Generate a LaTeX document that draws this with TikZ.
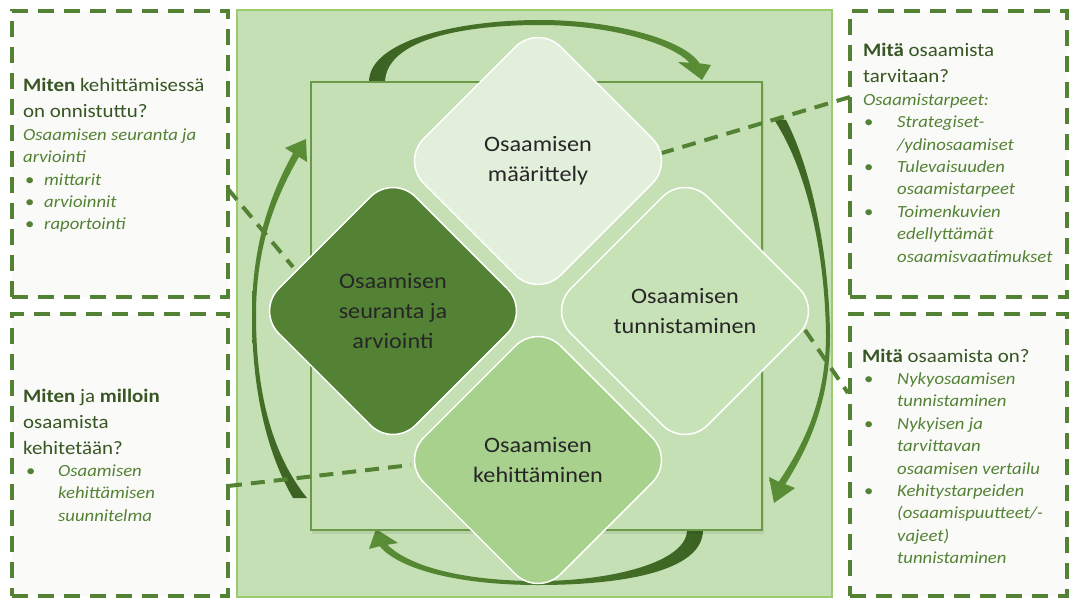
\documentclass[tikz,border=0pt]{standalone}
\usepackage{fontspec}
\setmainfont{Carlito}[FakeStretch=1.1]
\usetikzlibrary{shapes.geometric}
\definecolor{bgg}{HTML}{C5E0B4}
\definecolor{bgborder}{HTML}{9BCB6C}
\definecolor{innerborder}{HTML}{6A9A47}
\definecolor{dkg}{HTML}{548235}
\definecolor{dkshade}{HTML}{3B6222}
\definecolor{ltshade}{HTML}{5A8E36}
\definecolor{dtop}{HTML}{E2EFDA}
\definecolor{dright}{HTML}{C8E2B7}
\definecolor{dbottom}{HTML}{A9D18E}
\definecolor{titlec}{HTML}{375623}
\definecolor{itc}{HTML}{548235}
\definecolor{dtext}{HTML}{262626}
\definecolor{boxfill}{HTML}{FAFAF8}
\newcommand\bul[3]{\makebox[#1][l]{\hspace{#2}\upshape\textbullet}#3\par}
\newcommand\cnt[2]{\hspace*{#1}#2\par}
\tikzset{
  dbox/.style={rectangle, draw=dkg, line width=3.5pt, dash pattern=on 16pt off 10pt,
    fill=boxfill, inner sep=0pt, outer sep=0pt, anchor=north west},
  conn/.style={draw=dkg, line width=4pt, dash pattern=on 14pt off 9pt},
  dmd/.style={diamond, aspect=1, draw=white, line width=1.5pt, minimum width=274pt,
    minimum height=274pt, inner sep=0pt, rounded corners=32pt, align=center,
    text=dtext, font=\fontsize{22}{30}\selectfont},
  boxtext/.style={anchor=base west, inner sep=0pt, text=titlec,
    font=\fontsize{19}{26}\selectfont},
}
\begin{document}
\begin{tikzpicture}[x=1pt,y=-1pt]
\useasboundingbox (0,0) rectangle (1070,599);
\fill[white] (0,0) rectangle (1070,599);

% dashed info boxes
\node[dbox, minimum width=216pt, minimum height=286pt] (b1) at (12,11) {};
\node[dbox, minimum width=216pt, minimum height=282pt] (b2) at (12,314) {};
\node[dbox, minimum width=217pt, minimum height=286pt] (b3) at (850,11) {};
\node[dbox, minimum width=217pt, minimum height=282pt] (b4) at (850,314) {};

% background square
\fill[bgg, draw=bgborder, line width=1.5pt] (237,10) rectangle (832,597);

% curved arrows
\shade[left color=dkshade, right color=ltshade]
  (369,82) .. controls (369,40) and (460,20) .. (540,20)
  .. controls (615,20) and (685,40) .. (699.5,63.3)
  -- (711,65) -- (702,80) -- (678,62) -- (689.5,62.7)
  .. controls (672,44) and (612,25) .. (540,25)
  .. controls (455,25) and (386,42) .. (385,82) -- cycle;
\shade[top color=dkshade, bottom color=ltshade]
  (786,120) .. controls (812,170) and (829,255) .. (830,335)
  .. controls (830,400) and (810,445) .. (785.3,484.2)
  -- (795,488) -- (774,503) -- (769,477) -- (778.7,481.8)
  .. controls (804,444) and (826,400) .. (826,335)
  .. controls (825,258) and (809,172) .. (773,118) -- cycle;
\shade[right color=dkshade, left color=ltshade]
  (703,530) .. controls (703,572) and (620,585) .. (538,585)
  .. controls (460,585) and (400,570) .. (379.6,546.2)
  -- (369,549) -- (376,529) -- (398,543) -- (387.4,544.8)
  .. controls (410,567) and (465,581) .. (538,581)
  .. controls (612,581) and (687,562) .. (687,530) -- cycle;
\shade[bottom color=dkshade, top color=ltshade]
  (293,498) .. controls (265,450) and (252,385) .. (252,315)
  .. controls (252,245) and (270,195) .. (293.1,153.1)
  -- (285,148) -- (306,139) -- (307,162) -- (298.9,156.9)
  .. controls (276,197) and (256,245) .. (256,315)
  .. controls (256,388) and (270,452) .. (307,498) -- cycle;

% inner rectangle
\fill[black, opacity=0.07] (312,84) rectangle (764,534);
\fill[bgg, draw=innerborder, line width=1.2pt] (311,82) rectangle (762,530);

% diamonds
\node[dmd, fill=dtop] (def) at (538,161) {Osaamisen\\määrittely};
\node[dmd, fill=dkg] (eval) at (393,311) {Osaamisen\\seuranta ja\\arviointi};
\node[dmd, fill=dright] (ident) at (685,311) {Osaamisen\\tunnistaminen};
\node[dmd, fill=dbottom] (dev) at (538,460) {Osaamisen\\kehittäminen};

% dashed connectors
\coordinate (c1a) at (850,97);  \coordinate (c1b) at (662,153);
\coordinate (c2a) at (228,189); \coordinate (c2b) at (293,267);
\coordinate (c3a) at (805,330); \coordinate (c3b) at (848,393);
\coordinate (c4a) at (228,486); \coordinate (c4b) at (411,465);
\draw[conn] (c1a) -- (c1b);
\draw[conn] (c2a) -- (c2b);
\draw[conn] (c3a) -- (c3b);
\draw[conn] (c4a) -- (c4b);

% box texts
\node[boxtext] (t1) at (23,92) {\parbox[t]{200pt}{%
  \textbf{Miten} kehittämisessä\par
  on onnistuttu?\par
  \fontsize{17}{22.4}\selectfont\itshape\leavevmode\color{itc}%
  Osaamisen seuranta ja\par
  arviointi\par
  \bul{21pt}{2pt}{mittarit}
  \bul{21pt}{2pt}{arvioinnit}
  \bul{21pt}{2pt}{raportointi}}};

\node[boxtext] (t2) at (23,402) {\parbox[t]{200pt}{%
  \textbf{Miten} ja \textbf{milloin}\par
  osaamista\par
  kehitetään?\par
  \fontsize{17}{22.4}\selectfont\itshape\leavevmode\color{itc}%
  \bul{35pt}{3pt}{Osaamisen}
  \cnt{35pt}{kehittämisen}
  \cnt{35pt}{suunnitelma}}};

\node[boxtext] (t3) at (863,57) {\parbox[t]{200pt}{%
  \textbf{Mitä} osaamista\par
  tarvitaan?\par
  \fontsize{17}{22.4}\selectfont\itshape\leavevmode\color{itc}%
  Osaamistarpeet:\par
  \bul{34pt}{1pt}{Strategiset-}
  \cnt{34pt}{/ydinosaamiset}
  \bul{34pt}{1pt}{Tulevaisuuden}
  \cnt{34pt}{osaamistarpeet}
  \bul{34pt}{1pt}{Toimenkuvien}
  \cnt{34pt}{edellyttämät}
  \cnt{34pt}{osaamisvaatimukset}}};

\node[boxtext] (t4) at (862,362) {\parbox[t]{200pt}{%
  \textbf{Mitä} osaamista on?\par
  \fontsize{17}{22.4}\selectfont\itshape\leavevmode\color{itc}%
  \bul{35pt}{2pt}{Nykyosaamisen}
  \cnt{35pt}{tunnistaminen}
  \bul{35pt}{2pt}{Nykyisen ja}
  \cnt{35pt}{tarvittavan}
  \cnt{35pt}{osaamisen vertailu}
  \bul{35pt}{2pt}{Kehitystarpeiden}
  \cnt{35pt}{(osaamispuutteet/-}
  \cnt{35pt}{vajeet)}
  \cnt{35pt}{tunnistaminen}}};
\end{tikzpicture}
\end{document}
